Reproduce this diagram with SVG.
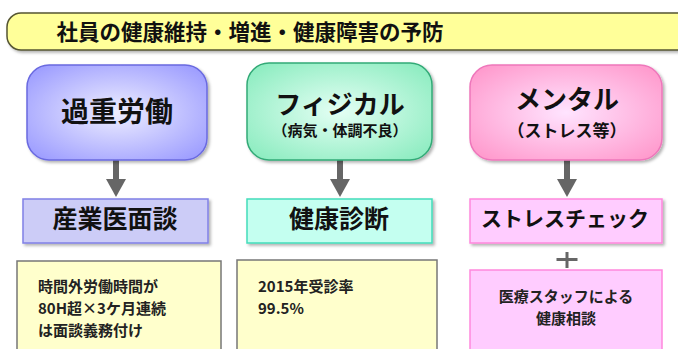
<svg xmlns="http://www.w3.org/2000/svg" width="678" height="349" viewBox="0 0 678 349">
<style>
text{font-family:"Noto Sans CJK JP","Noto Sans",sans-serif;font-weight:bold;fill:#111}
.c{text-anchor:middle}
.note{font-size:15px;fill:#222}
.conn line{stroke:#666;stroke-width:6}
.conn path{fill:#666}
</style>
<defs>
<radialGradient id="gB" cx="50%" cy="50%" r="65%"><stop offset="0" stop-color="#eeeeff"/><stop offset="1" stop-color="#9c9cff"/></radialGradient>
<radialGradient id="gG" cx="50%" cy="50%" r="65%"><stop offset="0" stop-color="#e4fff4"/><stop offset="1" stop-color="#8cecc0"/></radialGradient>
<radialGradient id="gP" cx="50%" cy="50%" r="65%"><stop offset="0" stop-color="#ffe4ff"/><stop offset="1" stop-color="#ff99cc"/></radialGradient>
<filter id="sh" x="-10%" y="-10%" width="125%" height="130%"><feDropShadow dx="2" dy="2" stdDeviation="1.5" flood-color="#000" flood-opacity="0.3"/></filter>
</defs>
<g id="title">
<rect x="7" y="13" width="690" height="37" rx="14" fill="#ffff99" stroke="#555533" stroke-width="1.5" filter="url(#sh)"/>
<text x="250" y="40" class="c" font-size="21.5">社員の健康維持・増進・健康障害の予防</text>
</g>
<g class="conn" id="connectors">
<line x1="116" y1="160" x2="116" y2="181"/><path d="M106,179 L126,179 L116,197 Z"/>
<line x1="340" y1="160" x2="340" y2="181"/><path d="M330,179 L350,179 L340,197 Z"/>
<line x1="567" y1="160" x2="567" y2="181"/><path d="M557,179 L577,179 L567,197 Z"/>
<path d="M565.5,252 h3 v6 h9 v3 h-9 v7 h-3 v-7 h-9 v-3 h9 Z" fill="#888"/>
</g>
<g id="n1">
<rect x="27" y="65" width="180" height="95" rx="22" fill="url(#gB)" stroke="#6a6ae0" stroke-width="1.5" filter="url(#sh)"/>
<text x="117" y="122" class="c" font-size="28">過重労働</text>
</g>
<g id="n2">
<rect x="247" y="63" width="185" height="97" rx="22" fill="url(#gG)" stroke="#33aa77" stroke-width="1.5" filter="url(#sh)"/>
<text x="340" y="114" class="c" font-size="26">フィジカル</text>
<text x="340" y="136" class="c" font-size="15">（病気・体調不良）</text>
</g>
<g id="n3">
<rect x="470" y="65" width="192" height="95" rx="22" fill="url(#gP)" stroke="#ee77bb" stroke-width="1.5" filter="url(#sh)"/>
<text x="567" y="109" class="c" font-size="26">メンタル</text>
<text x="567" y="137" class="c" font-size="17">（ストレス等）</text>
</g>
<g id="n4">
<rect x="23" y="199" width="185" height="44" fill="#ccccf7" stroke="#8080e6" stroke-width="1.5" filter="url(#sh)"/>
<text x="115" y="228" class="c" font-size="25">産業医面談</text>
</g>
<g id="n5">
<rect x="247" y="199" width="185" height="44" fill="#c4fff0" stroke="#44ddbb" stroke-width="1.5" filter="url(#sh)"/>
<text x="339" y="228" class="c" font-size="25">健康診断</text>
</g>
<g id="n6">
<rect x="470" y="199" width="192" height="44" fill="#ffccff" stroke="#ff88dd" stroke-width="1.5" filter="url(#sh)"/>
<text x="565" y="226" class="c" font-size="21">ストレスチェック</text>
</g>
<g id="n7">
<rect x="17" y="261" width="204" height="100" fill="#ffffcc" stroke="#777" stroke-width="1.5"/>
<text x="38" y="292" class="note">時間外労働時間が</text>
<text x="38" y="314" class="note">80H超×3ケ月連続</text>
<text x="38" y="336" class="note">は面談義務付け</text>
</g>
<g id="n8">
<rect x="237" y="260" width="200" height="100" fill="#ffffcc" stroke="#777" stroke-width="1.5"/>
<text x="258" y="292" class="note">2015年受診率</text>
<text x="258" y="314" class="note">99.5%</text>
</g>
<g id="n9">
<rect x="470" y="270" width="192" height="90" fill="#ffccff" stroke="#ff88dd" stroke-width="1.5"/>
<text x="566" y="302" class="c note">医療スタッフによる</text>
<text x="566" y="324" class="c note">健康相談</text>
</g>
</svg>
